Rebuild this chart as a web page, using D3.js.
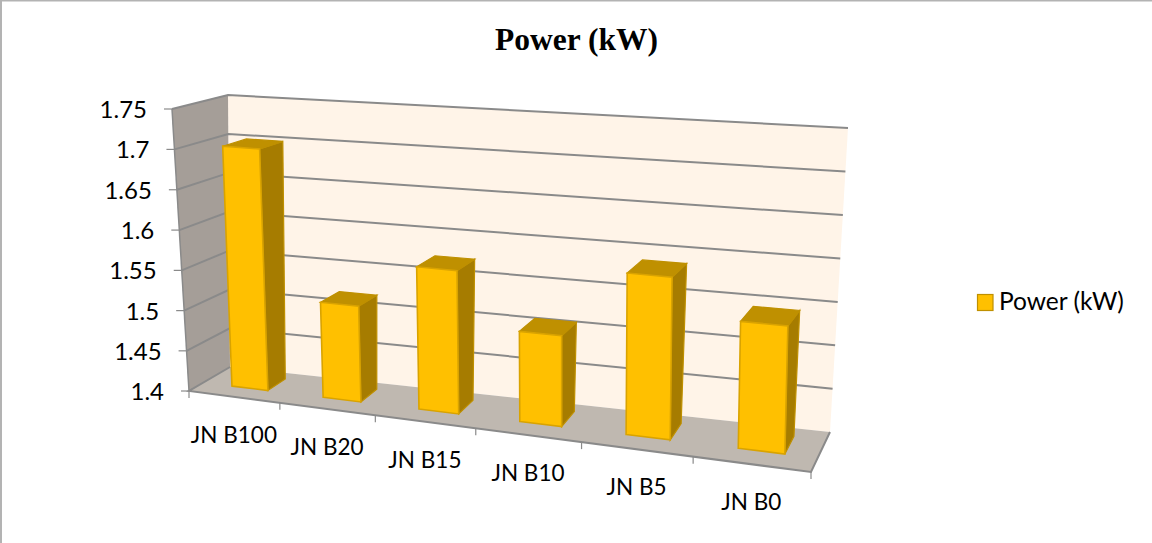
<!DOCTYPE html>
<html>
<head>
<meta charset="utf-8">
<script src="https://cdn.jsdelivr.net/npm/d3@7"></script>
<style>
  html, body { margin: 0; padding: 0; background: #fff; }
  svg { display: block; }
</style>
</head>
<body>
<svg width="1152" height="543"></svg>
<script>
// chart data
const categories = ["JN B100", "JN B20", "JN B15", "JN B10", "JN B5", "JN B0"];
const powerValues = [1.7, 1.517, 1.572, 1.507, 1.588, 1.545];
const valueTicks = [1.4, 1.45, 1.5, 1.55, 1.6, 1.65, 1.7, 1.75];
const tickLabels = ["1.4", "1.45", "1.5", "1.55", "1.6", "1.65", "1.7", "1.75"];
const seriesName = "Power (kW)";

const svg = d3.select("svg");

// corners of the 3d box as they land on the picture
const box = {
  frontBottomLeft: [189, 391], frontBottomRight: [811, 472],
  frontTopLeft: [172, 109], frontTopRight: [814, 157],
  backBottomLeft: [230, 367], backBottomRight: [830, 432],
  backTopLeft: [228, 95], backTopRight: [848, 128],
};

// scales, all of them give 0..1 inside the box
const xBand = d3.scaleBand().domain(categories).range([0, 1]).paddingInner(0.6).paddingOuter(0.3).align(0.54);
const xTick = d3.scaleLinear().domain([0, categories.length]).range([0, 1]);
const yValue = d3.scalePow().exponent(1.03).domain([1.4, 1.75]).range([0, 1]);

// the right side of the box is nearer, so the x steps grow
const warp = (t) => t / (t + 1.169 * (1 - t));

const mix = (a, b, t) => [a[0] + (b[0] - a[0]) * t, a[1] + (b[1] - a[1]) * t];

// u along categories, v up the value axis, d from front to back
function project(u, v, d) {
  const w = warp(u);
  const frontBottom = mix(box.frontBottomLeft, box.frontBottomRight, w);
  const frontTop = mix(box.frontTopLeft, box.frontTopRight, w);
  const backBottom = mix(box.backBottomLeft, box.backBottomRight, w);
  const backTop = mix(box.backTopLeft, box.backTopRight, w);
  return mix(mix(frontBottom, frontTop, v), mix(backBottom, backTop, v), d);
}

const line = d3.line();
const quad = (pts) => line(pts) + "Z";

// outer frame of the chart area
svg.append("rect").attr("x", 1).attr("y", 0.5).attr("width", 1160).attr("height", 560)
  .attr("fill", "#fff").attr("stroke", "#b3b3b3").attr("stroke-width", 2);

// title
svg.append("text").attr("x", 576.5).attr("y", 50).attr("text-anchor", "middle")
  .attr("font-family", "'Liberation Serif', serif").attr("font-weight", "bold").attr("font-size", 31.5)
  .attr("fill", "#000").text(seriesName);

// walls and floor
const walls = svg.append("g");
walls.append("path").attr("fill", "#fff4e8")
  .attr("d", quad([project(0, 0, 1), project(1, 0, 1), project(1, 1, 1), project(0, 1, 1)]));
walls.append("path").attr("fill", "#bfb8b0")
  .attr("d", quad([project(0, 0, 0), project(1, 0, 0), project(1, 0, 1), project(0, 0, 1)]));
walls.append("path").attr("fill", "#a59e98")
  .attr("d", quad([project(0, 0, 0), project(0, 1, 0), project(0, 1, 1), project(0, 0, 1)]));

// gridlines, running along the side wall and the back wall
const grid = svg.append("g").attr("fill", "none").attr("stroke", "#8a8a8a").attr("stroke-width", 2);
grid.selectAll("path").data(valueTicks.slice(1)).join("path")
  .attr("d", (d) => line([project(0, yValue(d), 0), project(0, yValue(d), 1), project(1, yValue(d), 1)]));

// floor edges and category ticks
const floorAxis = svg.append("g").attr("fill", "none").attr("stroke", "#8a8a8a").attr("stroke-width", 2);
floorAxis.append("path")
  .attr("d", line([project(0, 0, 1), project(0, 0, 0), project(1, 0, 0), project(1, 0, 1)]));
floorAxis.append("path").attr("stroke-width", 1.5)
  .attr("d", line([project(0, 1, 0), project(0, 0, 0)]));
floorAxis.selectAll(".x-tick").data(d3.range(categories.length + 1)).join("path")
  .attr("class", "x-tick").attr("stroke-width", 1.2)
  .attr("d", (i) => {
    const p = project(xTick(i), 0, 0);
    return line([p, [p[0], p[1] + 7]]);
  });

// value axis ticks and labels
const yAxis = svg.append("g");
yAxis.selectAll("path").data(valueTicks).join("path")
  .attr("fill", "none").attr("stroke", "#8a8a8a").attr("stroke-width", 1.2)
  .attr("d", (d) => {
    const p = project(0, yValue(d), 0);
    return line([[p[0] - 8, p[1]], p]);
  });
yAxis.selectAll("text").data(valueTicks).join("text")
  .attr("x", (d) => project(0, yValue(d), 0)[0] - 25)
  .attr("y", (d) => project(0, yValue(d), 0)[1] + 9)
  .attr("text-anchor", "end")
  .attr("font-family", "Lato, sans-serif").attr("font-size", 24).attr("fill", "#000")
  .text((d, i) => tickLabels[i]);

// bars do not overlap, so plain order is fine
const depthFront = 0.35, depthBack = 0.8;
const bars = svg.append("g").selectAll("g").data(categories).join("g");
const corners = (c, i) => {
  const u0 = xBand(c), u1 = xBand(c) + xBand.bandwidth(), v = yValue(powerValues[i]);
  return { u0, u1, v };
};
bars.append("path").attr("fill", "#a67c00").attr("stroke", "#bf9000").attr("stroke-width", 1.2)
  .attr("d", (c, i) => {
    const { u1, v } = corners(c, i);
    return quad([project(u1, 0, depthFront), project(u1, v, depthFront), project(u1, v, depthBack), project(u1, 0, depthBack)]);
  });
bars.append("path").attr("fill", "#bf9000").attr("stroke", "#bf9000").attr("stroke-width", 1.2)
  .attr("d", (c, i) => {
    const { u0, u1, v } = corners(c, i);
    return quad([project(u0, v, depthFront), project(u1, v, depthFront), project(u1, v, depthBack), project(u0, v, depthBack)]);
  });
bars.append("path").attr("fill", "#ffc000").attr("stroke", "#d9a300").attr("stroke-width", 1.6)
  .attr("d", (c, i) => {
    const { u0, u1, v } = corners(c, i);
    return quad([project(u0, 0, depthFront), project(u1, 0, depthFront), project(u1, v, depthFront), project(u0, v, depthFront)]);
  });

// category labels
svg.append("g").selectAll("text").data(categories).join("text")
  .attr("x", (c, i) => project(xTick(i + 0.5), 0, 0)[0])
  .attr("y", (c, i) => project(xTick(i + 0.5), 0, 0)[1] + 46)
  .attr("text-anchor", "middle")
  .attr("font-family", "Lato, sans-serif").attr("font-size", 22.5).attr("fill", "#000")
  .text((c) => c);

// legend
const legend = svg.append("g");
legend.append("rect").attr("x", 977.5).attr("y", 294.5).attr("width", 15.5).attr("height", 16)
  .attr("fill", "#ffc000").attr("stroke", "#bf9000").attr("stroke-width", 1.2);
legend.append("text").attr("x", 999).attr("y", 309.5)
  .attr("font-family", "Lato, sans-serif").attr("font-size", 24.5).attr("fill", "#000")
  .text(seriesName);
</script>
</body>
</html>
